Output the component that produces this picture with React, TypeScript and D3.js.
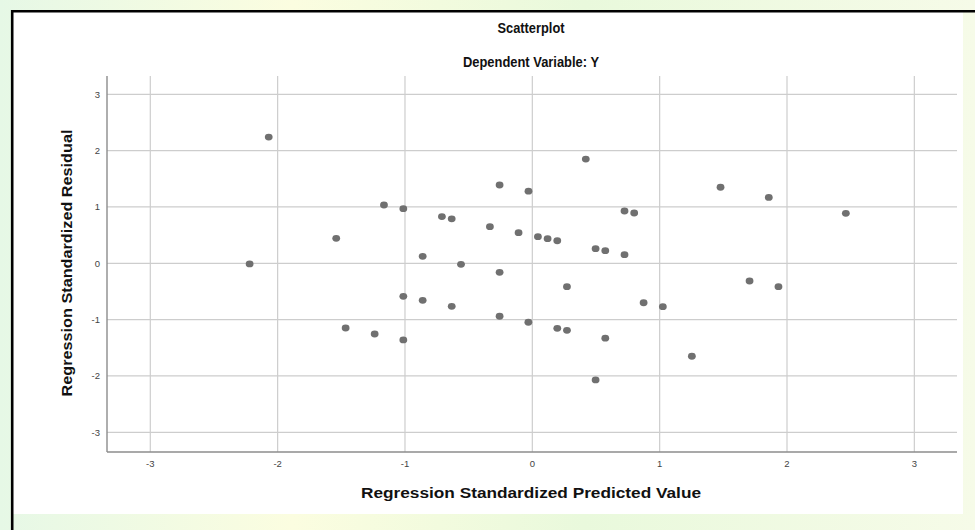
import React from "react";
import * as d3 from "d3";

const width = 975;
const height = 530;
const plot = { left: 107, right: 957, top: 76, bottom: 452 };

// regression standardized predicted value (x) and residual (y)
const predicted = [
  -2.07, -2.22, -1.54, -1.466, -1.238, -1.165, -1.013, -1.013, -1.013, -0.861,
  -0.861, -0.71, -0.633, -0.633, -0.56, -0.333, -0.257, -0.257, -0.257, -0.108,
  -0.03, -0.031, 0.044, 0.12, 0.196, 0.196, 0.272, 0.272, 0.42, 0.497,
  0.497, 0.573, 0.573, 0.724, 0.8, 0.724, 0.874, 1.025, 1.253, 1.478,
  1.706, 1.857, 1.933, 2.462,
];
const residual = [
  2.24, -0.012, 0.443, -1.149, -1.255, 1.035, 0.97, -0.586, -1.36, 0.124,
  -0.657, 0.83, 0.79, -0.764, -0.018, 0.65, 1.39, -0.16, -0.94, 0.543,
  1.28, -1.047, 0.472, 0.437, 0.4, -1.154, -0.415, -1.19, 1.85, 0.26,
  -2.07, 0.224, -1.33, 0.928, 0.893, 0.153, -0.7, -0.77, -1.65, 1.35,
  -0.314, 1.17, -0.415, 0.887,
];
const ticks = [-3, -2, -1, 0, 1, 2, 3];

const font = "'Liberation Sans', Arial, sans-serif";

export default function App() {
  const x = d3.scaleLinear().domain([-3.34, 3.335]).range([plot.left, plot.right]);
  const y = d3.scaleLinear().domain([-3.35, 3.325]).range([plot.bottom, plot.top]);
  const points = d3.zip(predicted, residual);

  return (
    <svg
      width={width}
      height={height}
      style={{ position: "fixed", left: 0, top: 0, display: "block" }}
      fontFamily={font}
    >
      <defs>
        <linearGradient id="wm" x1="0" x2="1" y1="0" y2="0">
          <stop offset="0" stopColor="#e6f8e6" />
          <stop offset="0.3" stopColor="#fbfde0" />
          <stop offset="0.6" stopColor="#e9f9dc" />
          <stop offset="1" stopColor="#f6fbe8" />
        </linearGradient>
      </defs>
      <rect width={width} height={height} fill="url(#wm)" />
      <rect x={13} y={12} width={950} height={502} fill="#ffffff" />
      <line x1={11} x2={width} y1={11.2} y2={11.2} stroke="#000" strokeWidth={2.6} />
      <line x1={12.2} x2={12.2} y1={10} y2={height} stroke="#000" strokeWidth={2.6} />

      <text x={531} y={33} textAnchor="middle" fontSize={14} fontWeight="bold" fill="#111"
        textLength={67} lengthAdjust="spacingAndGlyphs">Scatterplot</text>
      <text x={531} y={67} textAnchor="middle" fontSize={14} fontWeight="bold" fill="#111"
        textLength={136} lengthAdjust="spacingAndGlyphs">Dependent Variable: Y</text>

      {/* grid */}
      {ticks.map(t => (
        <line key={"gx" + t} x1={x(t)} x2={x(t)} y1={plot.top} y2={plot.bottom}
          stroke="#cdcdcd" strokeWidth={1.2} />
      ))}
      {ticks.map(t => (
        <line key={"gy" + t} x1={plot.left} x2={plot.right} y1={y(t)} y2={y(t)}
          stroke="#cdcdcd" strokeWidth={1.2} />
      ))}

      {/* axes */}
      <line x1={plot.left} x2={plot.left} y1={plot.top} y2={plot.bottom} stroke="#8c8c8c" strokeWidth={1.4} />
      <line x1={plot.left} x2={plot.right} y1={plot.bottom} y2={plot.bottom} stroke="#8c8c8c" strokeWidth={1.4} />

      {ticks.map(t => (
        <text key={"ty" + t} x={100} y={y(t) + 3.4} textAnchor="end" fontSize={9.5} fill="#444">{t}</text>
      ))}
      {ticks.map(t => (
        <text key={"tx" + t} x={x(t)} y={467} textAnchor="middle" fontSize={9.5} fill="#444">{t}</text>
      ))}

      {points.map(([px, py], i) => (
        <ellipse key={i} cx={x(px)} cy={y(py)} rx={3.9} ry={3.4} fill="#707070" />
      ))}

      <text x={531} y={498} textAnchor="middle" fontSize={14} fontWeight="bold" fill="#111"
        textLength={340} lengthAdjust="spacingAndGlyphs">Regression Standardized Predicted Value</text>
      <text transform={`translate(71.5, 263) rotate(-90)`} textAnchor="middle" fontSize={14} fontWeight="bold" fill="#111"
        textLength={267} lengthAdjust="spacingAndGlyphs">Regression Standardized Residual</text>
    </svg>
  );
}
